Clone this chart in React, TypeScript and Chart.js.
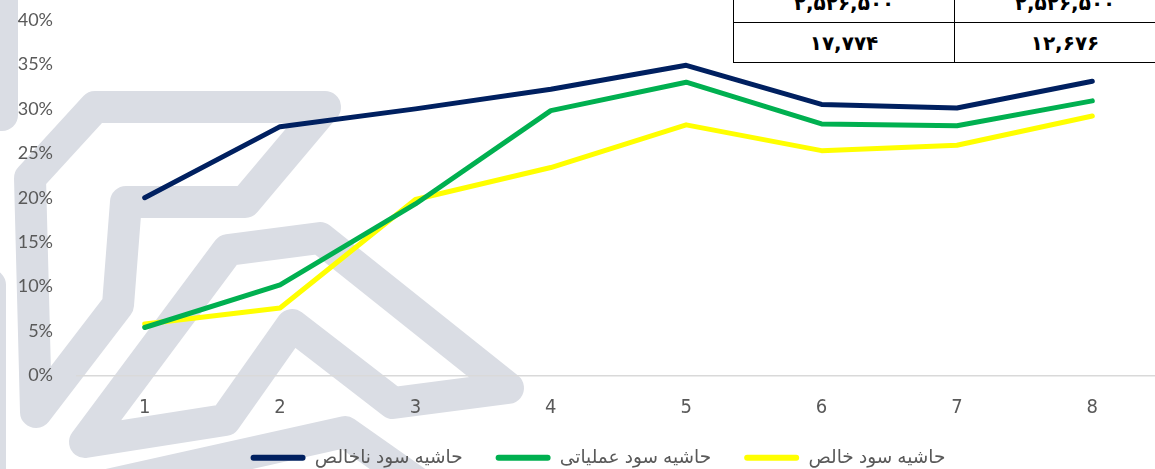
import React, { useEffect, useRef } from "react";
import { Chart, registerables } from "chart.js";

Chart.register(...registerables);

const categories = ["1", "2", "3", "4", "5", "6", "7", "8"];
const grossMargin = [20, 28, 30, 32.2, 34.9, 30.5, 30.1, 33.1];
const operatingMargin = [5.4, 10.2, 19.3, 29.8, 33, 28.3, 28.1, 30.9];
const netMargin = [5.8, 7.6, 19.8, 23.4, 28.2, 25.3, 25.9, 29.2];
const seriesNames = ["حاشیه سود ناخالص", "حاشیه سود عملیاتی", "حاشیه سود خالص"];
const seriesColors = ["#002060", "#00B050", "#FFFF00"];
const tableRows = [
  ["۲,۵۲۶,۵۰۰", "۲,۵۲۶,۵۰۰"],
  ["۱۷,۷۷۴", "۱۲,۶۷۶"],
];

// background watermark (decorative logo strokes)
const WATERMARK_PATHS: { pts: number[][]; closed: boolean }[] = [
  { pts: [[325, 107], [95, 107], [30, 178], [36, 412], [118, 305], [126, 202], [245, 202]], closed: true },
  { pts: [[228, 250], [320, 238], [508, 388], [393, 403], [292, 325], [225, 420], [85, 442]], closed: true },
  { pts: [[40, 500], [345, 432], [470, 520]], closed: false },
  { pts: [[2, -20], [2, 115]], closed: false },
  { pts: [[-10, 285], [-10, 490]], closed: false },
];

const watermarkPlugin = {
  id: "watermark",
  beforeDraw(chart: any) {
    const ctx = chart.ctx;
    ctx.save();
    ctx.fillStyle = "#ffffff";
    ctx.fillRect(0, 0, chart.width, chart.height);
    ctx.strokeStyle = "#dadde4";
    ctx.lineWidth = 32;
    ctx.lineJoin = "round";
    ctx.lineCap = "round";
    for (const p of WATERMARK_PATHS) {
      ctx.beginPath();
      p.pts.forEach((pt, i) => (i === 0 ? ctx.moveTo(pt[0], pt[1]) : ctx.lineTo(pt[0], pt[1])));
      if (p.closed) ctx.closePath();
      ctx.stroke();
    }
    ctx.restore();
  },
};

// shift the legend block to the right (reference legend is off-centre)
const legendShiftPlugin = {
  id: "legendShift",
  afterLayout(chart: any) {
    if (chart.legend) chart.legend.left += 36;
  },
};

export default function App() {
  const ref = useRef<HTMLCanvasElement | null>(null);

  useEffect(() => {
    if (!ref.current) return;
    const series = [grossMargin, operatingMargin, netMargin];
    const chart = new Chart(ref.current, {
      type: "line",
      data: {
        labels: categories,
        datasets: series.map((d, i) => ({
          label: seriesNames[i],
          data: d,
          borderColor: seriesColors[i],
          backgroundColor: seriesColors[i],
          borderWidth: 5,
          pointRadius: 0,
          tension: 0,
          borderJoinStyle: "round" as const,
          borderCapStyle: "round" as const,
        })),
      },
      options: {
        responsive: false,
        animation: false,
        layout: { padding: { left: 0, top: 20, right: 0, bottom: 0 } },
        plugins: {
          tooltip: { enabled: false },
          legend: {
            position: "bottom",
            labels: {
              boxWidth: 55,
              boxHeight: 6,
              padding: 33,
              useBorderRadius: true,
              borderRadius: 3,
              color: "#595959",
              font: { family: "'Liberation Sans', 'DejaVu Sans', sans-serif", size: 18.5 },
              generateLabels: (c: any) =>
                c.data.datasets.map((ds: any, i: number) => ({
                  text: ds.label,
                  fillStyle: ds.borderColor,
                  strokeStyle: ds.borderColor,
                  lineWidth: 0,
                  hidden: false,
                  datasetIndex: i,
                  borderRadius: 3,
                  fontColor: "#595959",
                })),
            },
          },
        },
        scales: {
          x: {
            offset: true,
            grid: { display: false, drawTicks: false },
            border: { display: true, color: "#d9d9d9", width: 1.5 },
            ticks: {
              color: "#595959",
              padding: 20,
              font: { family: "'Liberation Sans Narrow', 'DejaVu Sans Condensed', sans-serif", size: 20 },
            },
            afterFit: (s: any) => {
              s.height = 40;
            },
          },
          y: {
            min: 0,
            max: 40,
            grid: {
              display: true,
              drawOnChartArea: false,
              drawTicks: true,
              tickLength: 24,
              color: "rgba(0,0,0,0)",
            },
            border: { display: false },
            ticks: {
              stepSize: 5,
              color: "#595959",
              padding: 0,
              font: { family: "Lato, 'Open Sans', sans-serif", size: 18 },
              callback: (v: any) => v + "%",
            },
            afterFit: (s: any) => {
              s.width = 77;
            },
          },
        },
      },
      plugins: [watermarkPlugin, legendShiftPlugin],
    });
    return () => chart.destroy();
  }, []);

  const cellStyle: React.CSSProperties = {
    border: "1.5px solid #000",
    textAlign: "center",
    verticalAlign: "middle",
    height: 39,
    padding: 0,
    fontFamily: "'DejaVu Sans', sans-serif",
    fontWeight: "bold",
    fontSize: 20,
    color: "#000",
  };

  return (
    <div
      style={{
        position: "fixed",
        left: 0,
        top: 0,
        width: 1155,
        height: 469,
        overflow: "hidden",
        background: "#fff",
      }}
    >
      <canvas
        ref={ref}
        width={1160}
        height={477}
        style={{ position: "absolute", left: 0, top: 0, width: 1160, height: 477 }}
      />
      <table
        style={{
          position: "absolute",
          left: 733,
          top: -18,
          width: 443,
          borderCollapse: "collapse",
          tableLayout: "fixed",
          background: "#fff",
        }}
      >
        <tbody>
          {tableRows.map((row, r) => (
            <tr key={r}>
              {row.map((cell, c) => (
                <td key={c} style={cellStyle}>
                  {cell}
                </td>
              ))}
            </tr>
          ))}
        </tbody>
      </table>
    </div>
  );
}
